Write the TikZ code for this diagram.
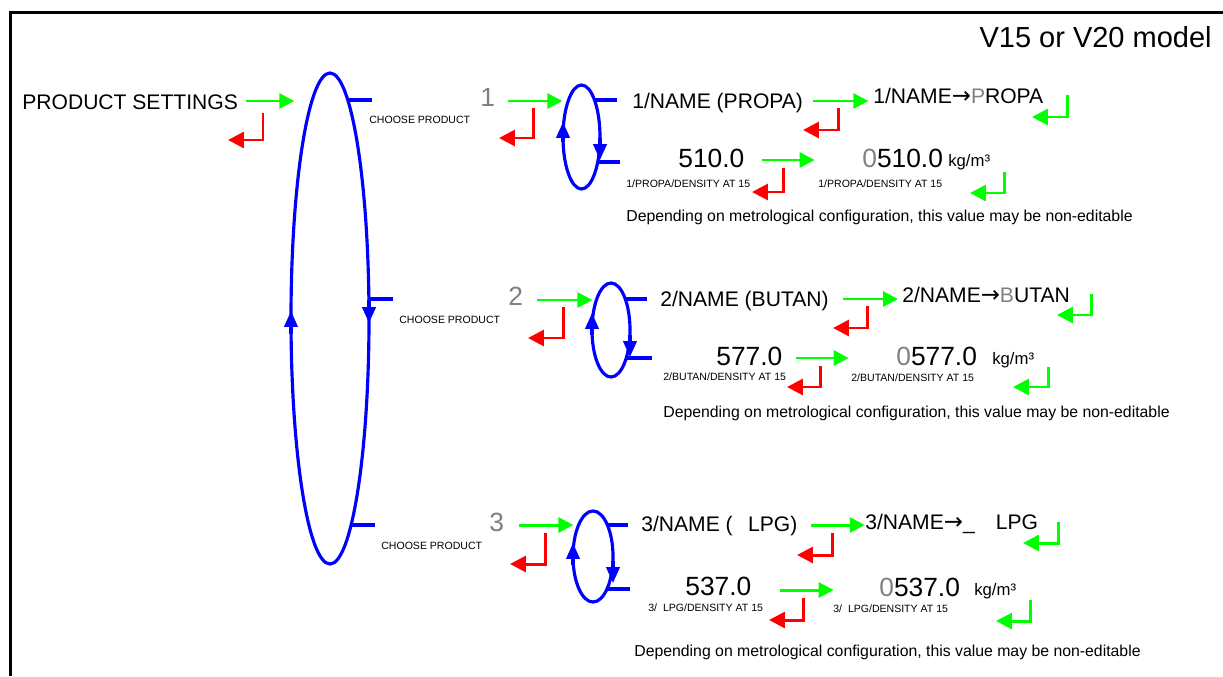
\documentclass[tikz,border=0pt]{standalone}
\usepackage{fontspec}
\setmainfont{Liberation Sans}
\newfontfamily\arrowfont{DejaVu Sans}
\usetikzlibrary{arrows.meta}
\definecolor{okgreen}{HTML}{00FF00}
\definecolor{backred}{HTML}{FF0000}
\definecolor{loopblue}{HTML}{0000FF}
\definecolor{digitgray}{HTML}{808080}
\newcommand{\editto}{{\arrowfont\fontsize{13}{14}\selectfont →}}
\tikzset{
  every node/.append style={inner sep=0pt},
  head/.style={font=\fontsize{16.5}{18}\selectfont, anchor=base east},
  menu/.style={font=\fontsize{12}{14}\selectfont, anchor=base west},
  digit/.style={font=\fontsize{15}{17}\selectfont, text=digitgray, anchor=base west},
  value/.style={font=\fontsize{15}{17}\selectfont, anchor=base west},
  unit/.style={font=\fontsize{9.5}{11}\selectfont, anchor=base west},
  tag/.style={font=\fontsize{6}{7}\selectfont, anchor=base west},
  note/.style={font=\fontsize{9}{11}\selectfont, anchor=base west},
  fwd/.style={okgreen, line width=1.7pt, -{Triangle[length=8.5pt,width=8.5pt]}},
  loopline/.style={loopblue, line width=1.8pt},
  loopdir/.style={loopblue, line width=1.8pt, -{Triangle[length=9pt,width=7.5pt]}},
  pics/back/.style 2 args={
    code={
      \draw[line width=1.7pt, -{Triangle[length=9pt,width=9pt]}] (0,0) -- (0,#1) -- (-#2,#1);
    }
  },
}

\begin{document}
\begin{tikzpicture}[x=0.02cm, y=-0.02cm]
  \useasboundingbox (0,0) rectangle (1223,676);
  \draw[line width=1.7pt] (10.5,676) -- (10.5,12.5) -- (1223,12.5);
  \node[head] (model) at (1212,47) {V15 or V20 model};

  % entry
  \node[menu] (ps) at (22,109) {PRODUCT SETTINGS};
  \draw[fwd] (ps.base east) ++(8,-8) -- ++(48,0);
  \pic[backred] at (263,113) {back={27}{35}};

  % product loop
  \draw[loopline] (330,318.5) ellipse [x radius=39, y radius=245.5];
  \draw[loopdir] (291,334) -- (291,311);
  \draw[loopdir] (369,300) -- (369,323);
  \foreach \y/\a in {100/348, 299/369, 525/351}
    \draw[loopline] (\a,\y) -- +(24,0);

  % 1 propane
  \node[tag] (c1) at (369,123) {CHOOSE PRODUCT};
  \node[digit] (d1) at (480,106) {1};
  \draw[fwd] (d1.base east) ++(13,-5) -- ++(54,0);
  \pic[backred] at (533,108) {back={30}{34}};
  \draw[loopline] (581.5,137) ellipse [x radius=18.5, y radius=52];
  \draw[loopdir] (563,142) -- (563,122);
  \draw[loopdir] (600,138) -- (600,160);
  \draw[loopline] (595,100) -- (617,100);
  \draw[loopline] (598,162) -- (620,162);
  \node[menu] (n1) at (632,108) {1/NAME (PROPA)};
  \draw[fwd] (n1.base east) ++(10,-7) -- ++(55,0);
  \pic[backred] at (838,108) {back={22}{35}};
  \node[menu] (e1) at (873,103) {1/NAME\editto\textcolor{digitgray}{P}ROPA};
  \pic[okgreen] at (1067,95) {back={22}{35}};
  \node[value] (v1) at (678,167) {510.0};
  \node[tag] (t1) at (626,187) {1/PROPA/DENSITY AT 15};
  \draw[fwd] (v1.base east) ++(17,-7) -- ++(53,0);
  \pic[backred] at (783,168) {back={24}{31}};
  \node[value] (w1) at (862,167) {\textcolor{digitgray}{0}510.0};
  \node[unit] (k1) at (948,166) {kg/m³};
  \node[tag] (s1) at (818,187) {1/PROPA/DENSITY AT 15};
  \pic[okgreen] at (1004,172) {back={21}{34}};
  \node[note] (m1) at (626,221) {Depending on metrological configuration, this value may be non-editable};

  % 2 butane
  \node[tag] (c2) at (399,323) {CHOOSE PRODUCT};
  \node[digit] (d2) at (508,305) {2};
  \draw[fwd] (d2.base east) ++(14,-5) -- ++(55,0);
  \pic[backred] at (563,307) {back={31}{35}};
  \draw[loopline] (611,330) ellipse [x radius=19, y radius=47];
  \draw[loopdir] (592,335) -- (592,313);
  \draw[loopdir] (630,335) -- (630,357);
  \draw[loopline] (625,299) -- (647,299);
  \draw[loopline] (626,358) -- (652,358);
  \node[menu] (n2) at (660,306) {2/NAME (BUTAN)};
  \draw[fwd] (n2.base east) ++(14,-7) -- ++(55,0);
  \pic[backred] at (867,306) {back={22}{34}};
  \node[menu] (e2) at (902,302) {2/NAME\editto\textcolor{digitgray}{B}UTAN};
  \pic[okgreen] at (1091,294) {back={21}{34}};
  \node[value] (v2) at (716,365) {577.0};
  \node[tag] (t2) at (663,380) {2/BUTAN/DENSITY AT 15};
  \draw[fwd] (v2.base east) ++(13,-7) -- ++(53,0);
  \pic[backred] at (820,366) {back={21}{33}};
  \node[value] (w2) at (896,365) {\textcolor{digitgray}{0}577.0};
  \node[unit] (k2) at (992,364) {kg/m³};
  \node[tag] (s2) at (851,381) {2/BUTAN/DENSITY AT 15};
  \pic[okgreen] at (1048,367) {back={20}{35}};
  \node[note] (m2) at (663,417) {Depending on metrological configuration, this value may be non-editable};

  % 3 lpg
  \node[tag] (c3) at (381,549) {CHOOSE PRODUCT};
  \node[digit] (d3) at (489,531) {3};
  \draw[fwd] (d3.base east) ++(15,-6) -- ++(54,0);
  \pic[backred] at (545,533) {back={31}{35}};
  \draw[loopline] (593,556.5) ellipse [x radius=20, y radius=45.5];
  \draw[loopdir] (573,565) -- (573,543);
  \draw[loopdir] (613,561) -- (613,583);
  \draw[loopline] (607,525) -- (628,525);
  \draw[loopline] (607,589) -- (630,589);
  \node[menu] (n3) at (641,531) {3/NAME (\hspace{8.8pt}LPG)};
  \draw[fwd] (n3.base east) ++(13,-6) -- ++(54,0);
  \pic[backred] at (832,533) {back={22}{35}};
  \node[menu] (e3) at (865,529) {3/NAME\editto\_\hspace{12pt}LPG};
  \pic[okgreen] at (1058,522) {back={21}{35}};
  \node[value] (v3) at (685,595) {537.0};
  \node[tag] (t3) at (648,611) {3/\ \ LPG/DENSITY AT 15};
  \draw[fwd] (v3.base east) ++(28,-5) -- ++(54,0);
  \pic[backred] at (803,598) {back={22}{34}};
  \node[value] (w3) at (879,596) {\textcolor{digitgray}{0}537.0};
  \node[unit] (k3) at (974,595) {kg/m³};
  \node[tag] (s3) at (833,612) {3/\ \ LPG/DENSITY AT 15};
  \pic[okgreen] at (1030,600) {back={21}{34}};
  \node[note] (m3) at (634,656) {Depending on metrological configuration, this value may be non-editable};
\end{tikzpicture}
\end{document}
